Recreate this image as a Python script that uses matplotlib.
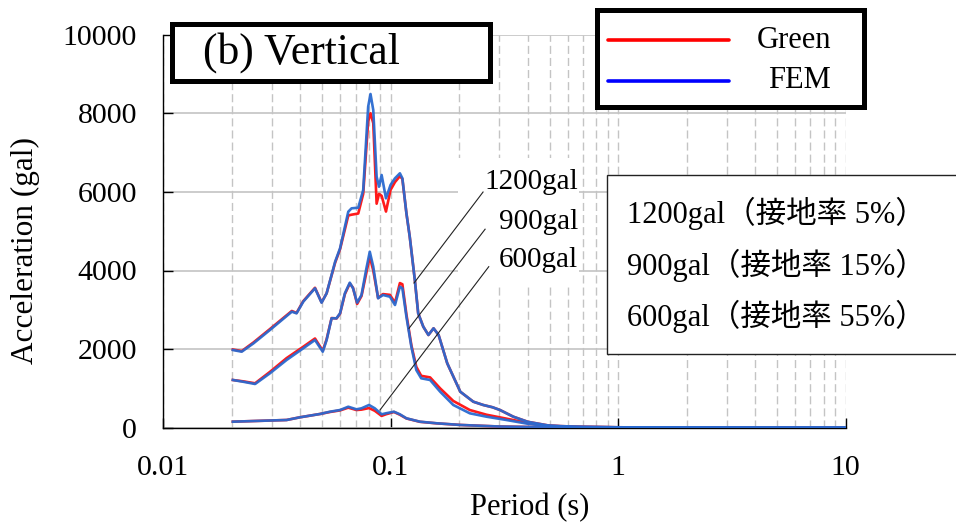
import matplotlib
matplotlib.use("Agg")
import matplotlib.pyplot as plt
from matplotlib.patches import Rectangle
from matplotlib.ticker import LogLocator, NullFormatter, FixedLocator
from matplotlib.lines import Line2D

plt.rcParams['lines.scale_dashes'] = False
plt.rcParams['font.family'] = ['Liberation Serif', 'Noto Sans CJK JP']

# ---------------- data ----------------
T1200 = [0.0202, 0.0221, 0.0249, 0.0294, 0.0367, 0.0385, 0.0412, 0.0464, 0.0496, 0.0522,
         0.0569, 0.0598, 0.0650, 0.0672, 0.0719, 0.0756, 0.0795, 0.0814, 0.0837, 0.0866,
         0.0887, 0.0911, 0.0952, 0.0997, 0.1043, 0.1096, 0.1124, 0.1171, 0.1211, 0.1275,
         0.1319, 0.1389, 0.1463, 0.1541, 0.1622, 0.1770, 0.2020, 0.2304, 0.2548, 0.2800,
         0.3020, 0.3455, 0.40, 0.50, 0.70, 1.0, 2.0, 5.0, 10.0]
FEM1200 = [1977, 1934, 2147, 2486, 2952, 2910, 3206, 3547, 3181, 3420,
           4224, 4565, 5496, 5582, 5598, 6048, 8168, 8491, 8084, 6387,
           6132, 6430, 5837, 6176, 6346, 6473, 6346, 5455, 4860, 3758,
           2911, 2570, 2359, 2529, 2359, 1639, 916, 662, 578, 520,
           450, 280, 150, 50, 20, 10, 5, 2, 1]
GREEN1200 = [1990, 1950, 2170, 2510, 2970, 2920, 3220, 3560, 3190, 3420,
             4200, 4540, 5400, 5420, 5450, 5950, 7800, 8000, 7750, 5700,
             5950, 5900, 5500, 6050, 6250, 6400, 6330, 5455, 4860, 3758,
             2911, 2570, 2359, 2529, 2359, 1639, 916, 662, 578, 520,
             450, 280, 150, 50, 20, 10, 5, 2, 1]

T900 = [0.0202, 0.0224, 0.0253, 0.0294, 0.0348, 0.0412, 0.0464, 0.0502, 0.0522, 0.0549,
        0.0577, 0.0598, 0.0628, 0.0660, 0.0682, 0.0711, 0.0743, 0.0781, 0.0808, 0.0837,
        0.0879, 0.0923, 0.0991, 0.1043, 0.1096, 0.1124, 0.1171, 0.1231, 0.1294, 0.1360,
        0.1488, 0.1648, 0.1882, 0.2225, 0.2634, 0.3225, 0.40, 0.46, 0.60, 1.0, 2.0, 5.0, 10.0]
FEM900 = [1214, 1170, 1112, 1384, 1723, 2020, 2232, 1934, 2232, 2784,
          2784, 2911, 3420, 3690, 3547, 3181, 3377, 4056, 4478, 4097,
          3293, 3377, 3333, 3122, 3588, 3547, 2824, 2061, 1468, 1257,
          1214, 916, 578, 366, 280, 196, 100, 60, 25, 10, 5, 2, 1]
GREEN900 = [1214, 1180, 1130, 1420, 1770, 2060, 2270, 1960, 2250, 2790,
            2780, 2900, 3400, 3670, 3560, 3150, 3350, 3950, 4350, 4000,
            3300, 3400, 3380, 3180, 3680, 3650, 2880, 2100, 1550, 1320,
            1280, 1000, 680, 450, 330, 230, 120, 60, 25, 10, 5, 2, 1]

T600 = [0.0202, 0.0348, 0.0398, 0.0488, 0.0540, 0.0598, 0.0650, 0.0706, 0.0743, 0.0802,
        0.0850, 0.0911, 0.0950, 0.1032, 0.1096, 0.1171, 0.1342, 0.1595, 0.2020, 0.30,
        0.50, 1.0, 2.0, 5.0, 10.0]
FEM600 = [153, 196, 264, 349, 407, 450, 534, 468, 493, 578,
          493, 341, 366, 407, 341, 239, 153, 112, 70, 30,
          10, 5, 2, 1, 1]
GREEN600 = [153, 196, 264, 349, 400, 440, 510, 450, 460, 500,
            430, 300, 340, 400, 330, 235, 150, 110, 70, 30,
            10, 5, 2, 1, 1]

y_ticks = [0, 2000, 4000, 6000, 8000, 10000]
x_ticks = [0.01, 0.1, 1, 10]
x_tick_labels = ['0.01', '0.1', '1', '10']

level_labels = ['1200gal', '900gal', '600gal']
# leader lines (label end, curve end) in data units
leader_start = [(0.2544, 5997), (0.2597, 5051), (0.2695, 4097)]
leader_end = [(0.1265, 3682), (0.1202, 2529), (0.0896, 450)]
ratio_labels = ['1200gal（接地率 5%）', '900gal（接地率 15%）', '600gal（接地率 55%）']

# ---------------- figure ----------------
W, H = 956, 529
fig = plt.figure(figsize=(W / 100, H / 100), dpi=100)
ax = fig.add_axes([163.4 / W, 1 - 427.7 / H, (845.7 - 163.4) / W, (427.7 - 34.7) / H])

def fx(px):
    return px / W

def fy(py):
    return 1 - py / H

red = '#ff1a1a'
blue = '#2a6ad0'
lw = 1.9
for T, g, f in [(T1200, GREEN1200, FEM1200), (T900, GREEN900, FEM900), (T600, GREEN600, FEM600)]:
    ax.plot(T, g, color=red, lw=lw, zorder=3, solid_joinstyle='round')
    ax.plot(T, f, color=blue, lw=lw, zorder=3.1, solid_joinstyle='round', alpha=0.95)

ax.set_xscale('log')
ax.set_xlim(0.01, 10)
ax.set_ylim(0, 10000)
ax.xaxis.set_major_locator(FixedLocator(x_ticks))
ax.set_xticklabels(x_tick_labels)
ax.xaxis.set_minor_locator(LogLocator(base=10, subs=[2, 3, 4, 5, 6, 7, 8, 9]))
ax.xaxis.set_minor_formatter(NullFormatter())
ax.set_yticks(y_ticks)
ax.set_yticklabels([str(v) for v in y_ticks])

ax.tick_params(axis='both', which='major', direction='in', length=7, width=1, color='black',
               labelsize=21.5)
ax.tick_params(axis='x', which='major', pad=20)
ax.tick_params(axis='y', which='major', pad=19)
ax.tick_params(axis='x', which='minor', length=0)

ax.grid(True, axis='x', which='both', color='#c4c4c4', lw=1.0, linestyle=(0, (5.8, 2.9)))
ax.grid(True, axis='y', which='major', color='#c4c4c4', lw=1.2, linestyle='-')
ax.set_axisbelow(True)

for s in ['top', 'right']:
    ax.spines[s].set_visible(False)
for s in ['left', 'bottom']:
    ax.spines[s].set_color('black')
    ax.spines[s].set_linewidth(1.0)

fig.text(fx(530), fy(508), 'Period (s)', ha='center', va='center', fontsize=22)
fig.text(fx(25), fy(251), 'Acceleration (gal)', ha='center', va='center', rotation=90,
         fontsize=22.5)

# white background behind level labels
ax.add_artist(Rectangle((fx(458), fy(285)), fx(579) - fx(458), fy(158) - fy(285),
                        transform=fig.transFigure, facecolor='white', edgecolor='none',
                        zorder=1))
label_y = [182, 222, 260]
for lab, yy in zip(level_labels, label_y):
    fig.text(fx(578), fy(yy), lab, ha='right', va='center', fontsize=21)
for (x0, y0), (x1, y1) in zip(leader_start, leader_end):
    ax.plot([x0, x1], [y0, y1], color='#222222', lw=0.8, zorder=4)

# (b) Vertical title box
fig.add_artist(Rectangle((fx(172), fy(81)), fx(490) - fx(172), fy(24) - fy(81),
                         transform=fig.transFigure, facecolor='white', edgecolor='black',
                         lw=3.6, zorder=5))
fig.text(fx(203), fy(53), '(b) Vertical', ha='left', va='center', fontsize=31.5, zorder=6)

# legend box
fig.add_artist(Rectangle((fx(597), fy(107)), fx(864) - fx(597), fy(10) - fy(107),
                         transform=fig.transFigure, facecolor='white', edgecolor='black',
                         lw=3.6, zorder=5))
for yy, c, name in [(40, '#ff0000', 'Green'), (81, '#0000ff', 'FEM')]:
    fig.add_artist(Line2D([fx(608), fx(729)], [fy(yy), fy(yy)], transform=fig.transFigure,
                          color=c, lw=2.6, solid_capstyle='round', zorder=6))
    fig.text(fx(831), fy(yy), name, ha='right', va='center', fontsize=22, zorder=6)

# contact ratio box
fig.add_artist(Rectangle((fx(607), fy(354)), fx(970) - fx(607), fy(175) - fy(354),
                         transform=fig.transFigure, facecolor='white', edgecolor='#222222',
                         lw=1.0, zorder=5, clip_on=False))
for lab, yy in zip(ratio_labels, [213, 265, 316]):
    fig.text(fx(627), fy(yy), lab, ha='left', va='center', fontsize=22, zorder=6,
             family=['Liberation Serif', 'Noto Sans CJK JP'])

fig.savefig('out.png', dpi=100)
